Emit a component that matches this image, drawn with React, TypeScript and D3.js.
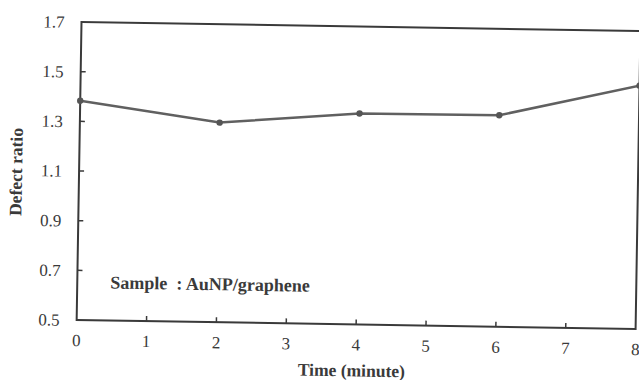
import React, { useEffect, useRef } from 'react';
import * as d3 from 'd3';

const times = [0, 2, 4, 6, 8];
const defectRatio = [1.383, 1.304, 1.35, 1.352, 1.48];
const xTicks = [0, 1, 2, 3, 4, 5, 6, 7, 8];
const yTicks = [0.5, 0.7, 0.9, 1.1, 1.3, 1.5, 1.7];

const W = 639, H = 380;
const plotW = 559, plotH = 298;
const ink = '#3a3a3a';

export default function App() {
  const ref = useRef<SVGSVGElement>(null);

  useEffect(() => {
    const svg = d3.select(ref.current);
    svg.selectAll('*').remove();

    // scanned page is a little tilted, so the whole figure is rotated a bit
    const g = svg.append('g').attr('transform', 'translate(81.5,22) rotate(0.93)');

    const x = d3.scaleLinear().domain([0, 8]).range([0, plotW]);
    const y = d3.scaleLinear().domain([0.5, 1.7]).range([plotH, 0]);

    // frame box
    g.append('rect')
      .attr('x', 0).attr('y', 0)
      .attr('width', plotW).attr('height', plotH)
      .attr('fill', 'none')
      .attr('stroke', ink)
      .attr('stroke-width', 2);

    // ticks point inward
    g.selectAll('.ytick').data(yTicks.slice(1, -1)).enter().append('line')
      .attr('x1', 0).attr('x2', 5)
      .attr('y1', d => y(d)).attr('y2', d => y(d))
      .attr('stroke', ink).attr('stroke-width', 1.5);
    g.selectAll('.xtick').data(xTicks.slice(1, -1)).enter().append('line')
      .attr('x1', d => x(d)).attr('x2', d => x(d))
      .attr('y1', plotH).attr('y2', plotH - 5)
      .attr('stroke', ink).attr('stroke-width', 1.5);

    const font = '"Liberation Serif", "Times New Roman", serif';

    g.selectAll('.ylab').data(yTicks).enter().append('text')
      .attr('x', -17).attr('y', d => y(d) + 6)
      .attr('text-anchor', 'end')
      .attr('font-family', font).attr('font-size', 17)
      .attr('fill', ink)
      .text(d => d3.format('.1f')(d));

    g.selectAll('.xlab').data(xTicks).enter().append('text')
      .attr('x', d => x(d)).attr('y', plotH + 26)
      .attr('text-anchor', 'middle')
      .attr('font-family', font).attr('font-size', 17)
      .attr('fill', ink)
      .text(d => String(d));

    const line = d3.line<number>()
      .x((d, i) => x(times[i]))
      .y(d => y(d));

    g.append('path')
      .datum(defectRatio)
      .attr('d', line)
      .attr('fill', 'none')
      .attr('stroke', '#606060')
      .attr('stroke-width', 2.5);

    g.selectAll('.pt').data(defectRatio).enter().append('circle')
      .attr('cx', (d, i) => x(times[i]))
      .attr('cy', d => y(d))
      .attr('r', 3.2)
      .attr('fill', '#555');

    g.append('text')
      .attr('x', 33).attr('y', 266)
      .attr('font-family', font).attr('font-size', 18)
      .attr('font-weight', 'bold')
      .attr('fill', ink)
      .attr('xml:space', 'preserve')
      .text('Sample  : AuNP/graphene');

    g.append('text')
      .attr('x', plotW / 2 - 4).attr('y', plotH + 52)
      .attr('text-anchor', 'middle')
      .attr('font-family', font).attr('font-size', 17.5)
      .attr('font-weight', 'bold')
      .attr('fill', ink)
      .text('Time (minute)');

    g.append('text')
      .attr('transform', `translate(-57,${plotH / 2 + 2}) rotate(-90)`)
      .attr('text-anchor', 'middle')
      .attr('font-family', font).attr('font-size', 17.5)
      .attr('font-weight', 'bold')
      .attr('fill', ink)
      .text('Defect ratio');
  }, []);

  return (
    <svg ref={ref} width={W} height={H}
      style={{ position: 'absolute', left: 0, top: 0, background: '#fff' }} />
  );
}
